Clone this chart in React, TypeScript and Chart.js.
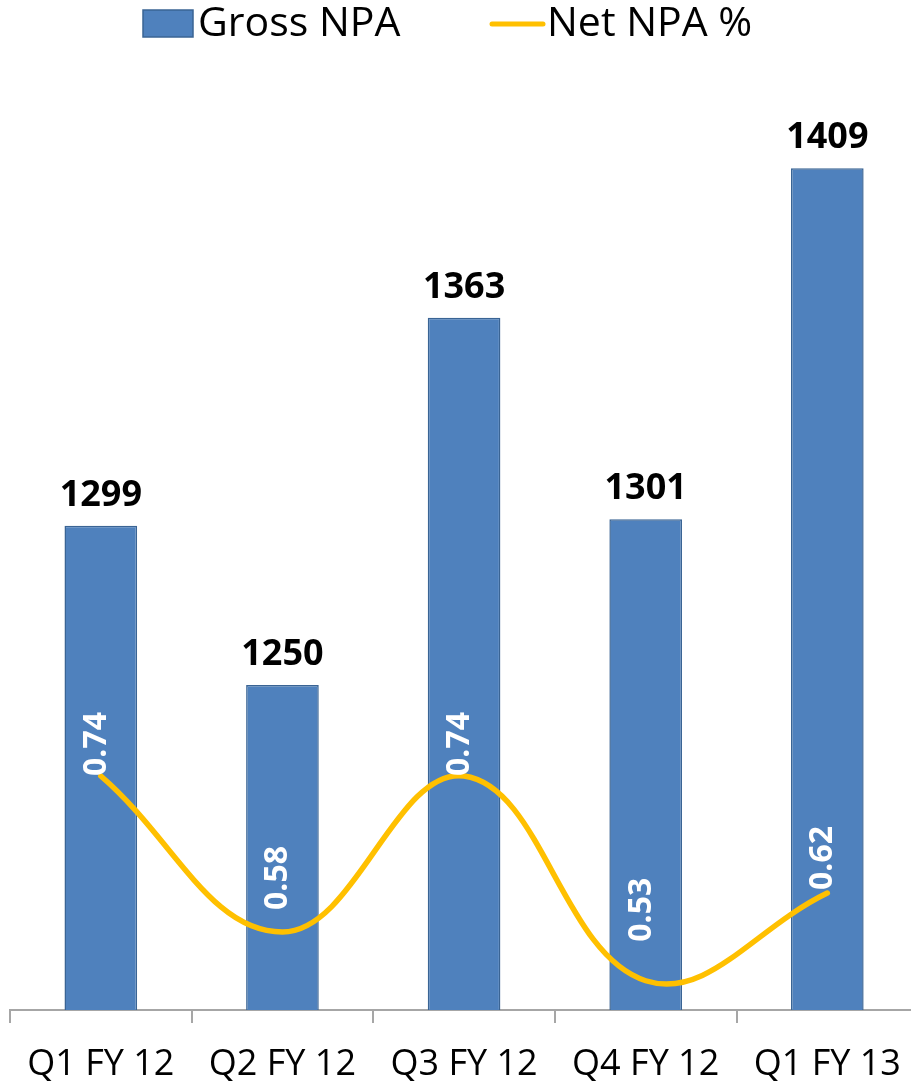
import React, { useEffect, useRef } from 'react';
import { Chart, registerables } from 'chart.js';

Chart.register(...registerables);

const categories = ['Q1 FY 12', 'Q2 FY 12', 'Q3 FY 12', 'Q4 FY 12', 'Q1 FY 13'];
const grossNpa = [1299, 1250, 1363, 1301, 1409];
const netNpaPct = [0.74, 0.58, 0.74, 0.53, 0.62];
const seriesNames = ['Gross NPA', 'Net NPA %'];

// label placement (style): how far above its point each Net NPA label starts
const netLabelLift = [0, 22, 0, 39, 3];

const FONT = "'Open Sans', sans-serif";
const BAR_FILL = '#4F81BD';
const BAR_BORDER = '#3A6494';
const LINE_COLOR = '#FFC000';
const AXIS_COLOR = '#A6A6A6';

const valueLabels = {
  id: 'valueLabels',
  afterDatasetsDraw(chart: any) {
    const ctx = chart.ctx;
    const lineMeta = chart.getDatasetMeta(0);
    const barMeta = chart.getDatasetMeta(1);
    ctx.save();
    ctx.font = `bold 36px ${FONT}`;
    ctx.fillStyle = '#000';
    ctx.textAlign = 'center';
    ctx.textBaseline = 'alphabetic';
    barMeta.data.forEach((el: any, i: number) => {
      ctx.fillText(String(grossNpa[i]), el.x, el.y - 20);
    });
    ctx.font = `bold 32px ${FONT}`;
    ctx.fillStyle = '#fff';
    ctx.textAlign = 'left';
    lineMeta.data.forEach((el: any, i: number) => {
      ctx.save();
      ctx.translate(el.x + 5, el.y - netLabelLift[i]);
      ctx.rotate(-Math.PI / 2);
      ctx.fillText(netNpaPct[i].toFixed(2), 0, 0);
      ctx.restore();
    });
    ctx.restore();
  },
};

const topLegend = {
  id: 'topLegend',
  afterDraw(chart: any) {
    const ctx = chart.ctx;
    ctx.save();
    ctx.font = `41px ${FONT}`;
    ctx.textBaseline = 'middle';
    ctx.textAlign = 'left';
    // bar entry
    ctx.fillStyle = BAR_FILL;
    ctx.fillRect(143, 10, 50, 27);
    ctx.strokeStyle = BAR_BORDER;
    ctx.lineWidth = 1.5;
    ctx.strokeRect(143, 10, 50, 27);
    ctx.fillStyle = '#000';
    ctx.fillText(seriesNames[0], 198, 24);
    // line entry
    ctx.strokeStyle = LINE_COLOR;
    ctx.lineWidth = 5;
    ctx.lineCap = 'round';
    ctx.beginPath();
    ctx.moveTo(492, 24);
    ctx.lineTo(543, 24);
    ctx.stroke();
    ctx.fillStyle = '#000';
    ctx.fillText(seriesNames[1], 547, 24);
    ctx.restore();
  },
};

export default function App() {
  const ref = useRef<HTMLCanvasElement | null>(null);

  useEffect(() => {
    if (!ref.current) return;
    Chart.defaults.font.family = FONT;
    const chart = new Chart(ref.current, {
      type: 'bar',
      data: {
        labels: categories,
        datasets: [
          {
            type: 'line',
            label: seriesNames[1],
            data: netNpaPct,
            yAxisID: 'y1',
            borderColor: LINE_COLOR,
            borderWidth: 5.5,
            borderCapStyle: 'round',
            pointRadius: 0,
            tension: 0.4,
            fill: false,
            order: 0,
          } as any,
          {
            type: 'bar',
            label: seriesNames[0],
            data: grossNpa,
            yAxisID: 'y',
            backgroundColor: BAR_FILL,
            borderColor: BAR_BORDER,
            borderWidth: 1.5,
            categoryPercentage: 1,
            barPercentage: 0.4,
            order: 1,
          } as any,
        ],
      },
      options: {
        responsive: false,
        animation: false,
        layout: { padding: { top: 35, left: 10, right: 1, bottom: 0 } },
        plugins: {
          legend: { display: false },
          tooltip: { enabled: false },
        },
        scales: {
          x: {
            offset: true,
            grid: {
              offset: true,
              drawOnChartArea: false,
              drawTicks: true,
              tickLength: 13,
              color: AXIS_COLOR,
              lineWidth: 2,
            },
            border: { color: AXIS_COLOR, width: 2 },
            ticks: { font: { size: 36, family: FONT }, color: '#000', padding: 20, maxRotation: 0 },
            afterFit: (s: any) => {
              s.height = 77;
            },
          },
          y: { display: false, min: 1150, max: 1450 },
          y1: { display: false, position: 'right', min: 0.5, max: 1.5 },
        },
      } as any,
      plugins: [valueLabels, topLegend],
    });
    return () => chart.destroy();
  }, []);

  return (
    <div style={{ position: 'absolute', left: 0, top: 0, width: 911, height: 1087, overflow: 'hidden', background: '#fff' }}>
      <canvas ref={ref} width={921} height={1087} style={{ width: 921, height: 1087, display: 'block' }} />
    </div>
  );
}
